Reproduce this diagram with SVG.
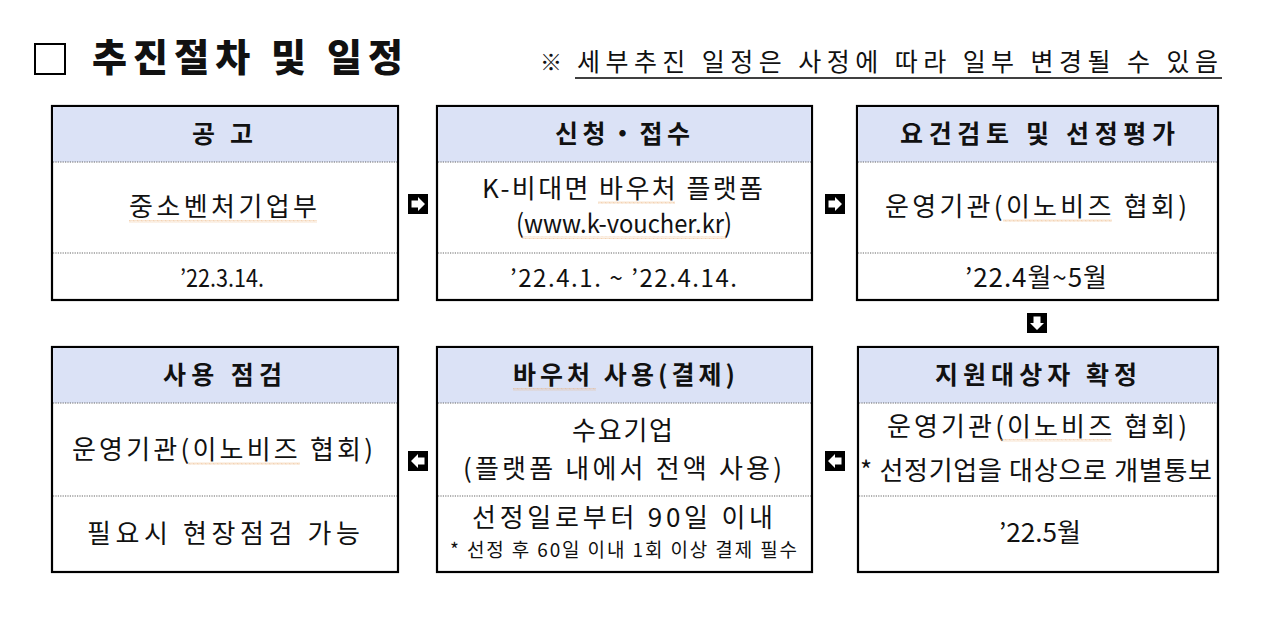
<svg xmlns="http://www.w3.org/2000/svg" width="1267" height="621" viewBox="0 0 1267 621">
<style>
.box{fill:#fff;stroke:#000;stroke-width:2.2}
.hd{fill:#dbe2f6}
.sep{stroke:#666;stroke-width:1.2;stroke-dasharray:1.2 1.2}
.t{font-family:"Noto Sans CJK KR","Noto Sans",sans-serif;fill:#111}
.h{font-size:25px;font-weight:bold}
.b{font-size:26px}
.d{font-size:24px}
.s{font-size:19px}
.w{fill:url(#wave)}
</style>
<defs>
<pattern id="wave" width="4" height="3" patternUnits="userSpaceOnUse">
<path d="M0,2.5 L1,0.5 L2,2.5 L3,0.5 L4,2.5" fill="none" stroke="#e8a868" stroke-width="0.7" stroke-dasharray="0.8 0.6"/>
</pattern>
<g id="arr"><rect x="-10" y="-10" width="20" height="20" fill="#000"/><path d="M-6.5,-3.5 H0 V-7 L7,0 L0,7 V3.5 H-6.5 Z" fill="#fff"/></g>
</defs>

<g id="title">
<rect x="35" y="44" width="30" height="30" fill="none" stroke="#000" stroke-width="2"/>
<text class="t" x="92" y="71" font-size="38" font-weight="900" textLength="311" lengthAdjust="spacing">추진절차 및 일정</text>
<text class="t" x="540" y="70" font-size="22">※</text>
<text class="t" x="577" y="71" font-size="25" textLength="641" lengthAdjust="spacing">세부추진 일정은 사정에 따라 일부 변경될 수 있음</text>
<line x1="575" y1="78" x2="1222" y2="78" stroke="#000" stroke-width="1.5"/>
</g>

<g id="n1">
<rect class="box" x="52" y="106" width="346" height="194"/>
<rect class="hd" x="53.1" y="107.1" width="343.8" height="55"/>
<line class="sep" x1="53" y1="162" x2="397" y2="162"/>
<line class="sep" x1="53" y1="253" x2="397" y2="253"/>
<text class="t h" x="192" y="143" textLength="61" lengthAdjust="spacing">공 고</text>
<text class="t b" x="129" y="216" textLength="188" lengthAdjust="spacing">중소벤처기업부</text>
<rect class="w" x="129" y="220" width="188" height="3"/>
<text class="t d" x="180" y="287" textLength="84" lengthAdjust="spacingAndGlyphs">’22.3.14.</text>
</g>

<g id="n2">
<rect class="box" x="437" y="106" width="375" height="194"/>
<rect class="hd" x="438.1" y="107.1" width="372.8" height="55"/>
<line class="sep" x1="438" y1="162" x2="811" y2="162"/>
<line class="sep" x1="438" y1="253" x2="811" y2="253"/>
<text class="t h" x="555" y="143" textLength="135" lengthAdjust="spacing">신청・접수</text>
<text class="t b" x="482" y="198" textLength="281" lengthAdjust="spacing">K-비대면 바우처 플랫폼</text>
<rect class="w" x="598" y="201" width="77" height="3"/>
<text class="t b" x="516" y="233" textLength="216" lengthAdjust="spacingAndGlyphs">(www.k-voucher.kr)</text>
<rect class="w" x="522" y="236" width="204" height="3"/>
<text class="t d" x="510" y="287" textLength="227" lengthAdjust="spacing">’22.4.1.  ~  ’22.4.14.</text>
</g>

<g id="n3">
<rect class="box" x="857" y="106" width="361" height="194"/>
<rect class="hd" x="858.1" y="107.1" width="358.8" height="55"/>
<line class="sep" x1="858" y1="162" x2="1217" y2="162"/>
<line class="sep" x1="858" y1="253" x2="1217" y2="253"/>
<text class="t h" x="900" y="143" textLength="275" lengthAdjust="spacing">요건검토 및 선정평가</text>
<text class="t b" x="885" y="216" textLength="302" lengthAdjust="spacing">운영기관(이노비즈 협회)</text>
<rect class="w" x="1003" y="219" width="109" height="3"/>
<text class="t b" x="965" y="287" textLength="142" lengthAdjust="spacing">’22.4월~5월</text>
</g>

<g id="n4">
<rect class="box" x="858" y="347" width="360" height="225"/>
<rect class="hd" x="859.1" y="348.1" width="357.8" height="55"/>
<line class="sep" x1="859" y1="403" x2="1217" y2="403"/>
<line class="sep" x1="859" y1="496" x2="1217" y2="496"/>
<text class="t h" x="935" y="384" textLength="202" lengthAdjust="spacing">지원대상자 확정</text>
<text class="t b" x="887" y="436" textLength="300" lengthAdjust="spacing">운영기관(이노비즈 협회)</text>
<rect class="w" x="1001" y="439" width="111" height="3"/>
<text class="t b" x="860" y="480" font-size="24" textLength="352" lengthAdjust="spacing">* 선정기업을 대상으로 개별통보</text>
<text class="t b" x="999" y="542" textLength="82" lengthAdjust="spacingAndGlyphs">’22.5월</text>
</g>

<g id="n5">
<rect class="box" x="437" y="347" width="375" height="225"/>
<rect class="hd" x="438.1" y="348.1" width="372.8" height="55"/>
<line class="sep" x1="438" y1="403" x2="811" y2="403"/>
<line class="sep" x1="438" y1="496" x2="811" y2="496"/>
<text class="t h" x="513" y="384" textLength="222" lengthAdjust="spacing">바우처 사용(결제)</text>
<rect class="w" x="513" y="388" width="83" height="3"/>
<text class="t b" x="572" y="440" textLength="101" lengthAdjust="spacing">수요기업</text>
<text class="t b" x="463" y="478" textLength="319" lengthAdjust="spacing">(플랫폼 내에서 전액 사용)</text>
<text class="t b" x="472" y="527" textLength="301" lengthAdjust="spacing">선정일로부터 90일 이내</text>
<text class="t s" x="450" y="557" textLength="347" lengthAdjust="spacing">* 선정 후 60일 이내 1회 이상 결제 필수</text>
</g>

<g id="n6">
<rect class="box" x="52" y="347" width="346" height="225"/>
<rect class="hd" x="53.1" y="348.1" width="343.8" height="55"/>
<line class="sep" x1="53" y1="403" x2="397" y2="403"/>
<line class="sep" x1="53" y1="496" x2="397" y2="496"/>
<text class="t h" x="163" y="384" textLength="119" lengthAdjust="spacing">사용 점검</text>
<text class="t b" x="72" y="459" textLength="301" lengthAdjust="spacing">운영기관(이노비즈 협회)</text>
<rect class="w" x="188" y="462" width="112" height="3"/>
<text class="t b" x="87" y="543" textLength="273" lengthAdjust="spacing">필요시 현장점검 가능</text>
</g>

<g id="connectors">
<use href="#arr" transform="translate(418,204)"/>
<use href="#arr" transform="translate(835,204)"/>
<use href="#arr" transform="translate(1037,323) rotate(90)"/>
<use href="#arr" transform="translate(835,461) rotate(180)"/>
<use href="#arr" transform="translate(418,461) rotate(180)"/>
</g>
</svg>
